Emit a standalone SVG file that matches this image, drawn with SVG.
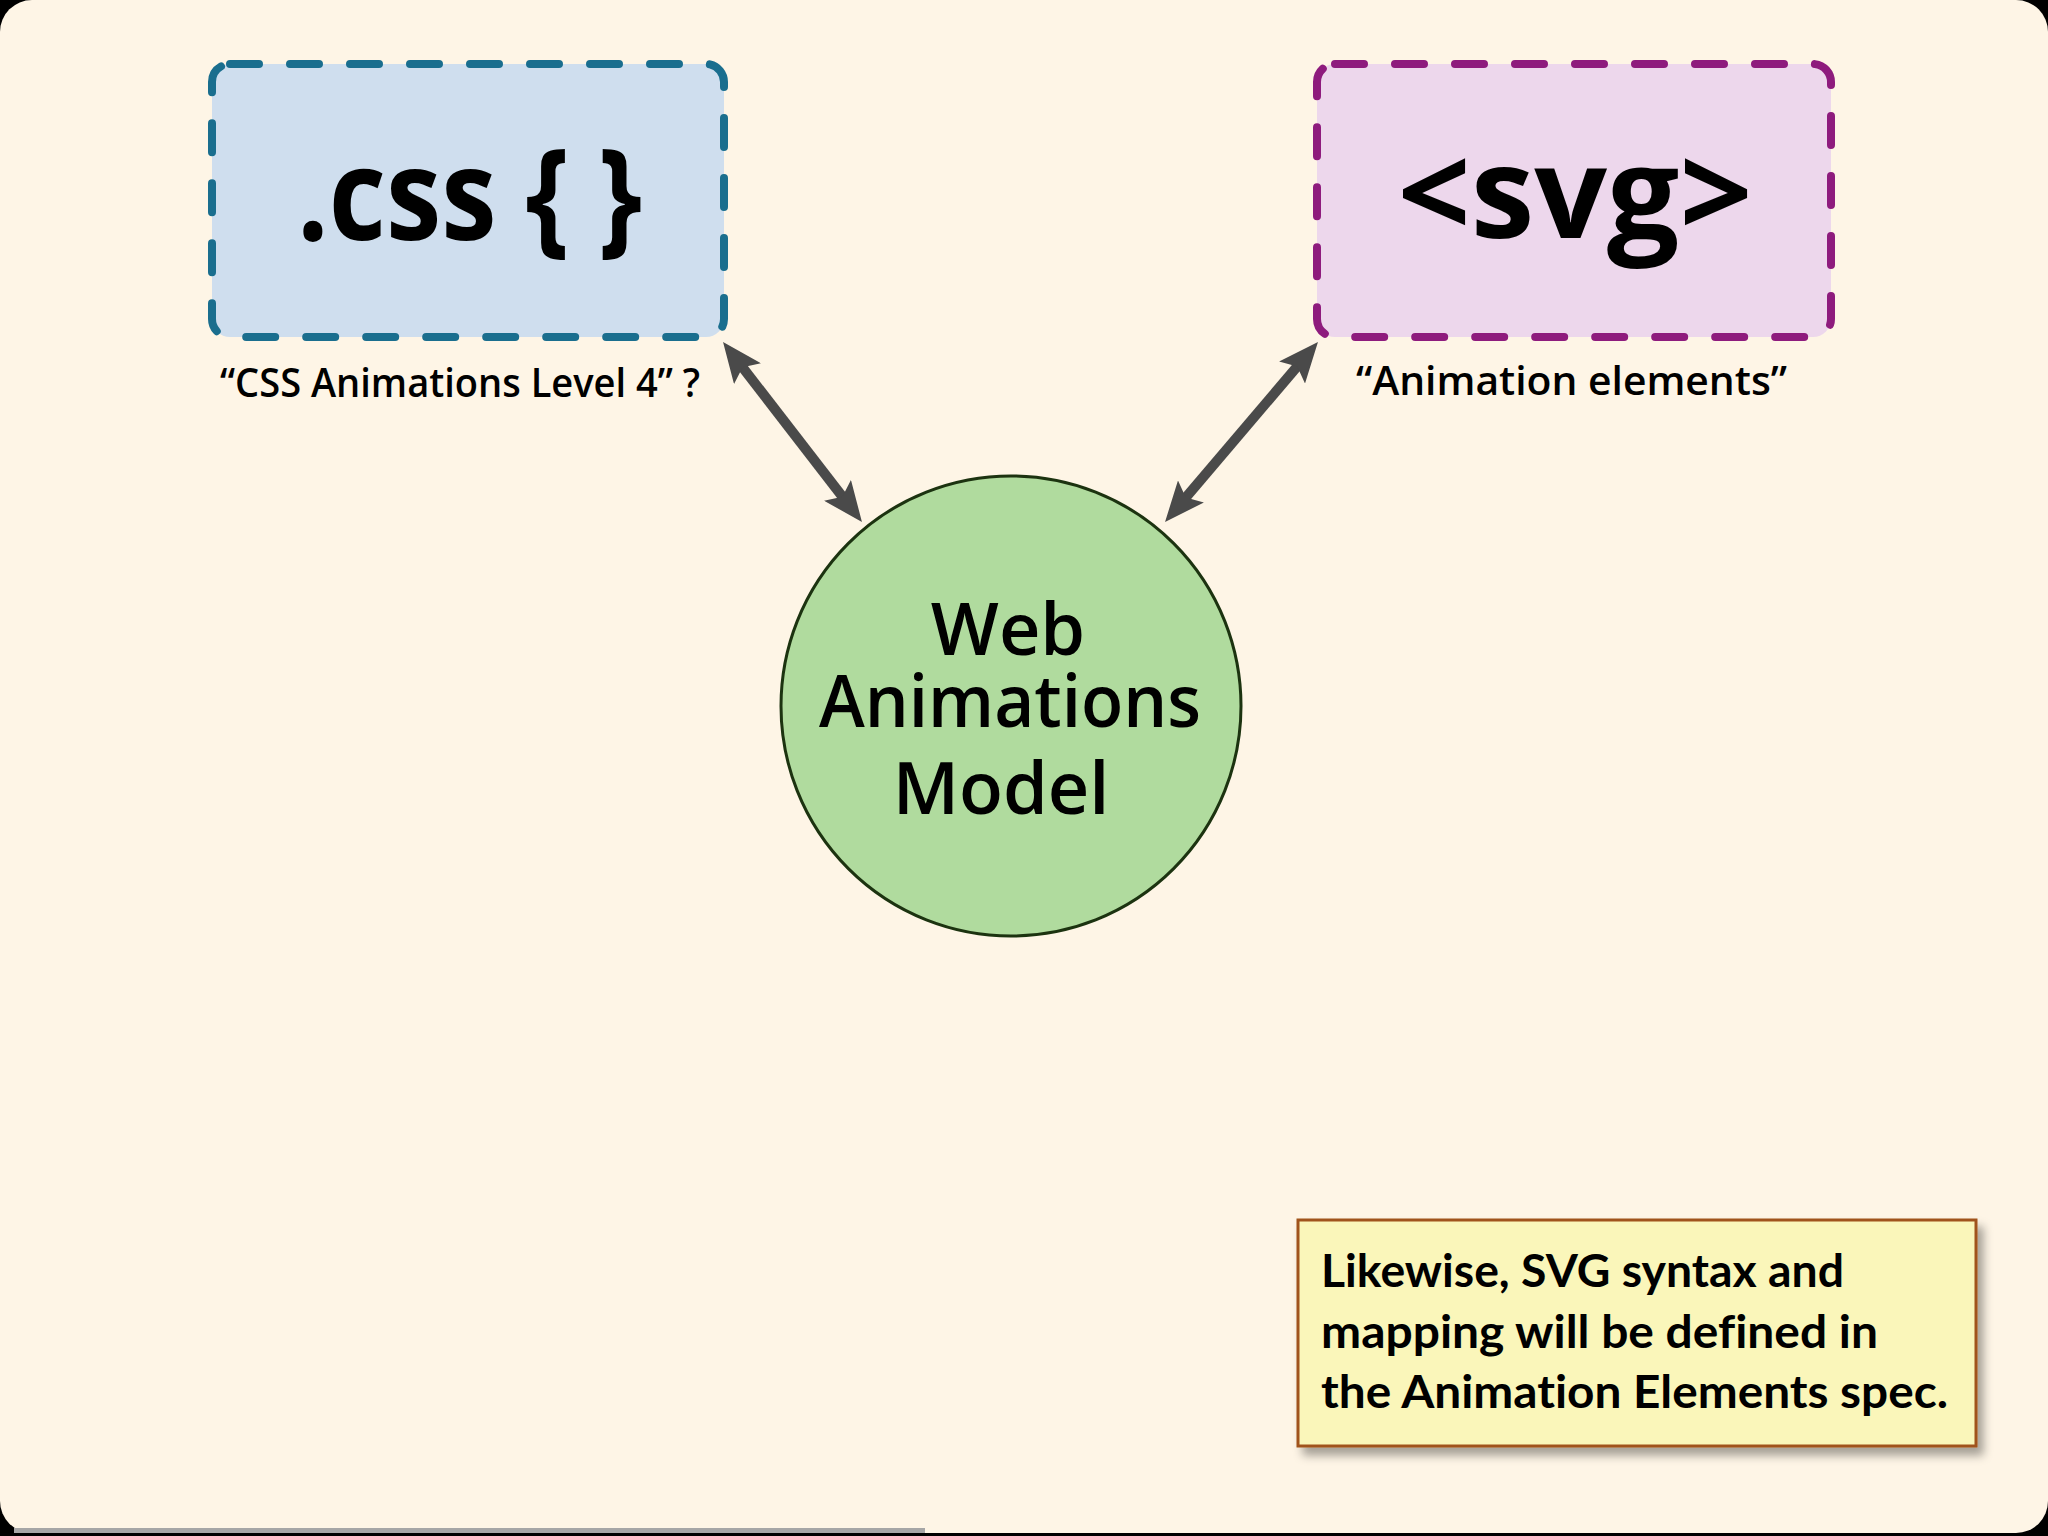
<svg xmlns="http://www.w3.org/2000/svg" width="2048" height="1536" viewBox="0 0 2048 1536">
  <style>
    .box { stroke-width: 8; stroke-dasharray: 29 31; stroke-linecap: round; }
    .big { font-family: "Open Sans", "DejaVu Sans", sans-serif; font-weight: 700; font-size: 128px; fill: #000; }
    .lbl { font-family: "Open Sans", "DejaVu Sans", sans-serif; font-weight: 600; font-size: 40px; fill: #000; }
    .circ { font-family: "Open Sans", "DejaVu Sans", sans-serif; font-weight: 600; font-size: 72px; fill: #000; text-anchor: middle; }
    .note { font-family: Lato, "Open Sans", sans-serif; font-weight: 700; font-size: 46px; fill: #000; font-variant-ligatures: none; }
    .conn { stroke: #4a4a4a; stroke-width: 10; fill: none; marker-start: url(#ah); marker-end: url(#ah); }
  </style>
  <defs>
    <marker id="ah" viewBox="0 0 40 34" refX="26" refY="17" markerWidth="40" markerHeight="34" markerUnits="userSpaceOnUse" orient="auto-start-reverse">
      <path d="M0,0 L40,17 L0,34 L8,17 Z" fill="#4a4a4a"/>
    </marker>
    <filter id="shadow" x="-10%" y="-10%" width="125%" height="130%">
      <feDropShadow dx="6" dy="8" stdDeviation="5" flood-color="#000" flood-opacity="0.35"/>
    </filter>
  </defs>

  <g id="background">
    <rect x="0" y="0" width="2048" height="1536" fill="#000"/>
    <rect x="0" y="0" width="2048" height="1533" rx="32" ry="32" fill="#fef5e6"/>
    <rect x="14" y="1528" width="911" height="5" fill="#a6a6a6"/>
  </g>

  <g id="connectors">
    <line class="conn" x1="731.6" y1="353.1" x2="853.4" y2="510.9"/>
    <line class="conn" x1="1308.9" y1="352.7" x2="1174.1" y2="511.3"/>
  </g>

  <g id="node-css">
    <rect class="box" x="212" y="64" width="512" height="273" rx="18" ry="18" fill="#cfdeee" stroke="#1a6e8e"/>
    <text class="big" x="297" y="240" textLength="345" lengthAdjust="spacingAndGlyphs">.css { }</text>
    <text class="lbl" x="220" y="397" textLength="480" lengthAdjust="spacingAndGlyphs">“CSS Animations Level 4” ?</text>
  </g>

  <g id="node-svg">
    <rect class="box" x="1317" y="64" width="514" height="273" rx="18" ry="18" fill="#edd7ec" stroke="#8e1b7d"/>
    <text class="big" x="1575" y="238" text-anchor="middle">&lt;svg&gt;</text>
    <text class="lbl" x="1356" y="395" textLength="431" lengthAdjust="spacingAndGlyphs">“Animation elements”</text>
  </g>

  <g id="node-model">
    <circle cx="1011" cy="706" r="230" fill="#b0db9e" stroke="#1c3310" stroke-width="3"/>
    <text class="circ" x="1008" y="655">Web</text>
    <text class="circ" x="1010" y="727" textLength="382" lengthAdjust="spacingAndGlyphs">Animations</text>
    <text class="circ" x="1001" y="814">Model</text>
  </g>

  <g id="note">
    <rect x="1298" y="1220" width="678" height="226" fill="#faf6ba" stroke="#a0531c" stroke-width="3" filter="url(#shadow)"/>
    <text class="note" x="1321" y="1287" textLength="523" lengthAdjust="spacingAndGlyphs">Likewise, SVG syntax and</text>
    <text class="note" x="1321" y="1348" textLength="557" lengthAdjust="spacingAndGlyphs">mapping will be defined in</text>
    <text class="note" x="1321" y="1408" textLength="627" lengthAdjust="spacingAndGlyphs">the Animation Elements spec.</text>
  </g>
</svg>
